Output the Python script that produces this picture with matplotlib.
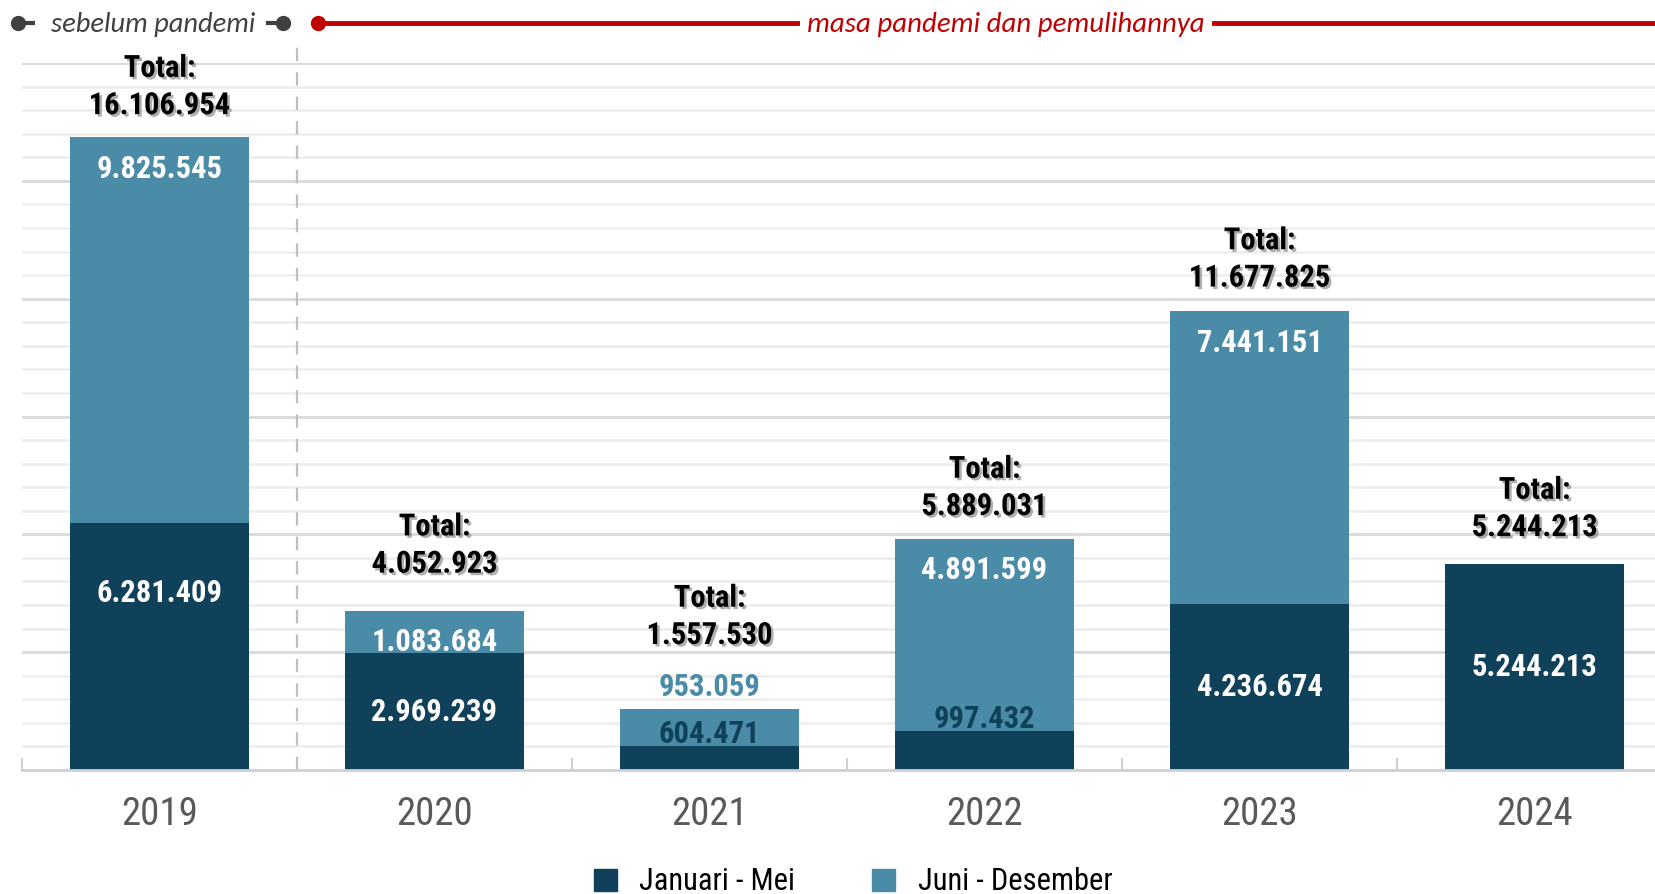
import matplotlib
matplotlib.use("Agg")
import matplotlib.pyplot as plt
import matplotlib.patheffects as pe
from matplotlib.patches import Rectangle
from matplotlib.lines import Line2D
import numpy as np
import logging
logging.getLogger("matplotlib.font_manager").setLevel(logging.ERROR)

# ---------------- data ----------------
years = ["2019", "2020", "2021", "2022", "2023", "2024"]
jan_mei = [6281409, 2969239, 604471, 997432, 4236674, 5244213]
jun_des = [9825545, 1083684, 953059, 4891599, 7441151, 0]
totals = [16106954, 4052923, 1557530, 5889031, 11677825, 5244213]
series_names = ["Januari - Mei", "Juni - Desember"]
pre_label = "sebelum pandemi"
post_label = "masa pandemi dan pemulihannya"

# layout of the "Total" labels (gap above bar top, in millions)
total_gap = [0.82, 1.20, 1.88, 0.83, 0.86, 0.94]

DARK = "#10415A"
LIGHT = "#4A8BA8"
RED = "#C00000"
GREY_TXT = "#595959"

NARROW = ["Arial Narrow", "Roboto Condensed", "Archivo Narrow", "DejaVu Sans"]
CALIBRI = ["Calibri", "Carlito", "Lato", "DejaVu Sans"]

W, H = 1655, 894
fig = plt.figure(figsize=(W / 100, H / 100), dpi=100)
fig.patch.set_facecolor("white")

def fx(px):
    return px / W

def fy(py):
    return 1 - py / H

ax = fig.add_axes([fx(22), fy(770), fx(1672) - fx(22), fy(63) - fy(770)])
ax.set_xlim(-0.5, 5.5)
ax.set_ylim(0, 18)

x = np.arange(len(years))
M = 1e6
jm = np.array(jan_mei) / M
jd = np.array(jun_des) / M
tt = np.array(totals) / M

# gridlines
for v in np.arange(0.6, 18.01, 0.6):
    major = abs(v / 3 - round(v / 3)) < 1e-6
    ax.axhline(v, color="#D9D9D9" if major else "#EDEDED", lw=2.0 if major else 1.8, zorder=0)

bw = 0.65
ax.bar(x, jm, width=bw, color=DARK, zorder=2)
mask = jd > 0
ax.bar(x[mask], jd[mask], bottom=jm[mask], width=bw, color=LIGHT, zorder=2)

# spines / ticks
for s in ["left", "right", "top"]:
    ax.spines[s].set_visible(False)
ax.spines["bottom"].set_color("#D0D0D0")
ax.spines["bottom"].set_linewidth(2)
ax.set_yticks([])
ax.set_xticks(x)
ax.set_xticklabels(years, fontsize=28, color=GREY_TXT, family=NARROW)
ax.tick_params(axis="x", which="major", length=0, pad=19)
ax.set_xticks(np.array([-0.5, 1.5, 2.5, 3.5, 4.5]), minor=True)
ax.tick_params(axis="x", which="minor", direction="in", length=9, width=1.5, color="#D0D0D0")

# dashed separator between 2019 and 2020
ax.plot([0.5, 0.5], [0, 18.6], ls=(0, (6, 5)), color="#BFBFBF", lw=1.6, zorder=1, clip_on=False)

def fmt(v):
    return f"{v:,}".replace(",", ".")

# value labels
lab_kw = dict(ha="center", va="center", fontsize=22, fontweight="bold", family=NARROW, zorder=5)
for i in range(len(years)):
    if jd[i] > 0:
        if jd[i] < 1.0:
            ax.text(x[i], tt[i] + 0.56, fmt(jun_des[i]), color=LIGHT, **lab_kw)
        else:
            ax.text(x[i], tt[i] - 0.8, fmt(jun_des[i]), color="white", **lab_kw)
    if jm[i] < 1.2:
        ax.text(x[i], jm[i] + 0.3, fmt(jan_mei[i]), color=DARK, **lab_kw)
    else:
        yc = jm[i] / 2
        if i == 0:
            yc = jm[i] - 1.77
        ax.text(x[i], yc, fmt(jan_mei[i]), color="white", **lab_kw)

# totals
shadow = [pe.SimplePatchShadow(offset=(1.8, -1.8), shadow_rgbFace="#7A7A7A", alpha=0.6), pe.Normal()]
tot_kw = dict(ha="center", va="center", fontsize=22, fontweight="bold", family=NARROW,
              color="black", path_effects=shadow, zorder=6)
for i in range(len(years)):
    yv = tt[i] + total_gap[i]
    ax.text(x[i], yv, fmt(totals[i]), **tot_kw)
    ax.text(x[i], yv + 0.95, "Total:", **tot_kw)

# top annotations (figure coords)
ty = fy(23)
GREY_ANN = "#404040"
fig.add_artist(Line2D([fx(18), fx(33)], [ty, ty], color=GREY_ANN, lw=3))
fig.add_artist(Line2D([fx(18)], [ty], marker="o", ms=10, color=GREY_ANN))
fig.add_artist(Line2D([fx(268), fx(283)], [ty, ty], color=GREY_ANN, lw=3))
fig.add_artist(Line2D([fx(283)], [ty], marker="o", ms=10, color=GREY_ANN))
fig.text(fx(153), ty - 0.002, pre_label, ha="center", va="center", fontsize=20.5, style="italic",
         color=GREY_ANN, family=CALIBRI)

fig.add_artist(Line2D([fx(318), fx(797)], [ty, ty], color=RED, lw=3.5))
fig.add_artist(Line2D([fx(1214), fx(1655)], [ty, ty], color=RED, lw=3.5))
fig.add_artist(Line2D([fx(318)], [ty], marker="o", ms=10, color=RED))
fig.text(fx(1006), ty - 0.002, post_label, ha="center", va="center", fontsize=20.8, style="italic",
         color=RED, family=CALIBRI)

# legend
handles = [Rectangle((0, 0), 1, 1, color=DARK), Rectangle((0, 0), 1, 1, color=LIGHT)]
leg = fig.legend(handles, series_names, loc="center", bbox_to_anchor=(fx(853), fy(882)),
                 ncol=2, frameon=False, handlelength=0.75, handleheight=0.75, handletextpad=0.75,
                 columnspacing=2.5, borderpad=0, prop={"family": NARROW, "size": 22})

fig.savefig("out.png", dpi=100, facecolor="white")
